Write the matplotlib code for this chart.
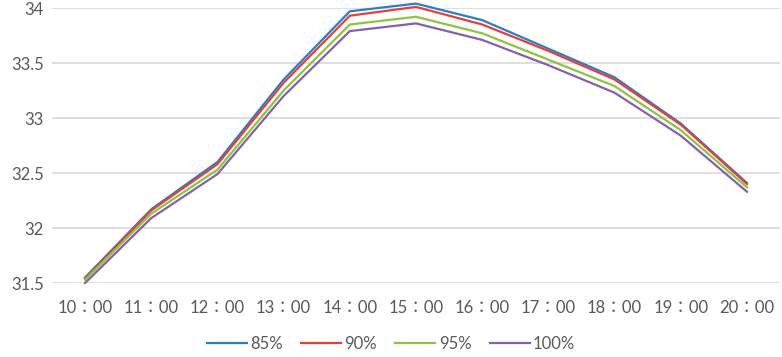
import matplotlib.pyplot as plt

hours = ["10：00", "11：00", "12：00", "13：00", "14：00", "15：00",
         "16：00", "17：00", "18：00", "19：00", "20：00"]
s85 = [31.55, 32.17, 32.60, 33.35, 33.97, 34.04, 33.89, 33.63, 33.37, 32.95, 32.41]
s90 = [31.54, 32.16, 32.58, 33.32, 33.93, 34.01, 33.85, 33.61, 33.35, 32.94, 32.40]
s95 = [31.53, 32.13, 32.53, 33.25, 33.85, 33.92, 33.77, 33.53, 33.29, 32.89, 32.37]
s100 = [31.50, 32.09, 32.49, 33.20, 33.79, 33.86, 33.71, 33.48, 33.23, 32.84, 32.33]
labels = ["85%", "90%", "95%", "100%"]
yticks = [31.5, 32, 32.5, 33, 33.5, 34]

plt.rcParams['font.family'] = ['Lato', 'Noto Sans CJK TC', 'DejaVu Sans']
fig = plt.figure(figsize=(7.82, 3.57), dpi=100)
ax = fig.add_axes([52 / 782, 1 - 283 / 357, 728 / 782, 275 / 357])

colors = ['#2a7dc6', '#e3403c', '#8cc43f', '#8660a8']
x = range(len(hours))
for ys, lab, c in zip([s85, s90, s95, s100], labels, colors):
    ax.plot(x, ys, color=c, lw=1.6, label=lab, clip_on=False)

ax.set_xlim(-0.5, len(hours) - 0.5)
ax.set_ylim(31.5, 34)
ax.set_yticks(yticks)
ax.set_yticklabels([f"{v:g}" for v in yticks])
ax.set_xticks(list(x))
ax.set_xticklabels(hours)
ax.grid(axis='y', color='#d9d9d9', lw=1.2)
ax.set_axisbelow(True)
for sp in ax.spines.values():
    sp.set_visible(False)
ax.tick_params(length=0, labelsize=12, labelcolor='#595959')
ax.tick_params(axis='x', pad=12)
ax.tick_params(axis='y', pad=6)

fig.legend(loc='lower center', bbox_to_anchor=(0.5, -0.028), ncol=4, frameon=False,
           fontsize=12, labelcolor='#595959', handlelength=2.4, handletextpad=0.2,
           columnspacing=1.1)

fig.savefig("out.png", dpi=100)
